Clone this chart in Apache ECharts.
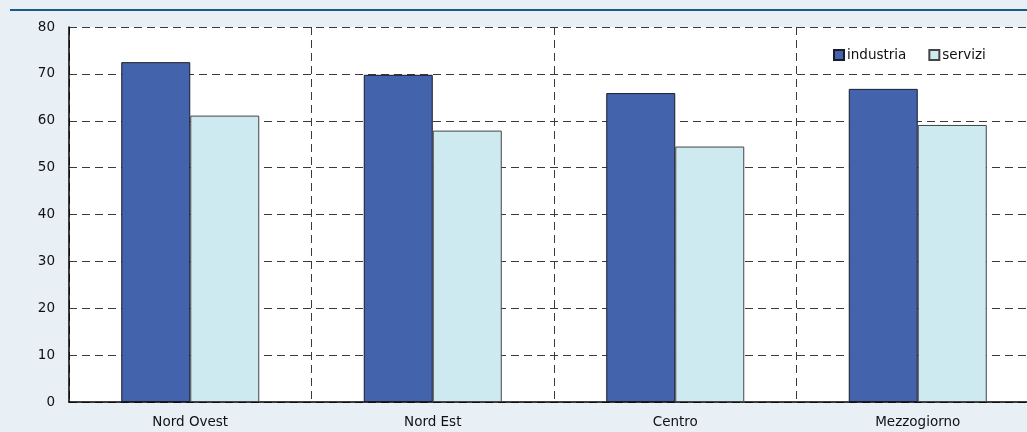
<!DOCTYPE html>
<html>
<head>
<meta charset="utf-8">
<script src="https://cdn.jsdelivr.net/npm/echarts@6/dist/echarts.min.js"></script>
<style>
html,body{margin:0;padding:0;background:#e8eff5;overflow:hidden;width:1027px;height:432px;}
#c{width:1050px;height:432px;position:absolute;left:0;top:0;}
</style>
</head>
<body>
<div id="c"></div>
<div id="topline" style="position:absolute;left:10px;width:1017px;top:9px;height:2px;background:#1b5a86;"></div>
<script>
const categories = ['Nord Ovest', 'Nord Est', 'Centro', 'Mezzogiorno'];
const industria = [72.5, 69.8, 65.9, 66.8];
const servizi = [61.1, 57.9, 54.5, 59.1];
const yTicks = [0, 10, 20, 30, 40, 50, 60, 70, 80];

const chart = echarts.init(document.getElementById('c'), null, {renderer: 'canvas'});
const dash = {color: '#3a3a3a', width: 1, type: [8, 5]};
const font = 'DejaVu Sans, Liberation Sans, sans-serif';
chart.setOption({
  animation: false,
  backgroundColor: '#e8eff5',
  textStyle: {fontFamily: font},
  grid: {left: 69, top: 27, height: 375, width: 970, show: true, backgroundColor: '#ffffff', borderWidth: 0, containLabel: false},
  legend: {
    left: 828, top: 43, itemWidth: 10, itemHeight: 10, itemGap: 22, icon: 'rect',
    textStyle: {fontSize: 13.5, color: '#111', fontFamily: font, padding: [0, 0, 0, -2]},
    data: ['industria', 'servizi']
  },
  xAxis: {
    type: 'category', data: categories, boundaryGap: true,
    axisLine: {show: true, lineStyle: {color: '#000', width: 1.5}},
    axisTick: {show: false},
    axisLabel: {fontSize: 13.5, color: '#111', margin: 13, fontFamily: font},
    splitLine: {show: true, lineStyle: dash}
  },
  yAxis: {
    type: 'value', min: yTicks[0], max: yTicks[yTicks.length - 1], interval: 10,
    axisLine: {show: true, lineStyle: {color: '#000', width: 1.5}},
    axisTick: {show: false},
    axisLabel: {fontSize: 13.5, color: '#111', margin: 14, fontFamily: font},
    splitLine: {show: true, lineStyle: dash}
  },
  series: [
    {name: 'industria', type: 'bar', data: industria, barWidth: 69, barGap: '0%',
     itemStyle: {color: '#4463ad', borderColor: '#1a1a28', borderWidth: 1}},
    {name: 'servizi', type: 'bar', data: servizi, barWidth: 69, barGap: '0%',
     itemStyle: {color: '#cdeaf0', borderColor: '#444', borderWidth: 1}}
  ]
});
</script>
</body>
</html>
